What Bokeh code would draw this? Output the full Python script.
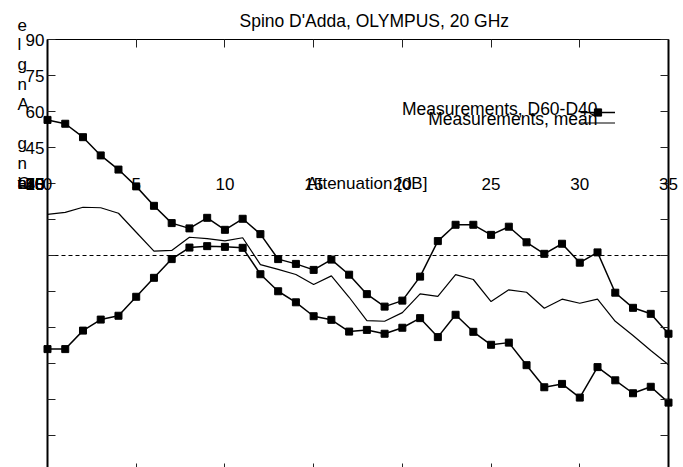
from bokeh.plotting import figure
from bokeh.models import (ColumnDataSource, LinearAxis, FixedTicker, Label,
                          Legend, LegendItem, Range1d)
from bokeh.embed import file_html
from bokeh.resources import INLINE

# ---------------- data ----------------
attenuation = list(range(36))
d60 = [56.5, 54.9, 49.3, 41.7, 35.8, 28.8, 20.7, 13.5, 11.3, 15.7, 10.7, 15.3, 8.9, -1.5,
       -3.5, -6.0, -1.7, -8.0, -16.1, -21.3, -18.8, -8.8, 6.0, 12.8, 12.8, 8.6, 12.0, 5.5,
       0.7, 4.9, -3.0, 1.3, -15.5, -21.8, -24.3, -32.6]
d40 = [-39.0, -39.0, -31.3, -26.7, -25.1, -17.2, -9.3, -1.5, 3.3, 3.9, 3.6, 3.2, -7.8, -14.9,
       -19.5, -25.3, -26.8, -31.7, -31.0, -32.6, -30.1, -26.1, -34.0, -24.7, -31.8, -37.2,
       -36.3, -45.7, -54.9, -53.5, -59.2, -46.5, -52.0, -57.4, -54.7, -61.3]
mean = [17.1, 18.0, 20.1, 19.9, 17.6, 9.7, 1.8, 2.1, 7.6, 7.0, 6.1, 7.4, -3.8, -5.8, -7.9,
        -12.1, -8.5, -17.4, -27.1, -27.4, -23.8, -16.0, -17.0, -8.0, -10.0, -19.2, -14.3,
        -15.3, -22.0, -18.2, -19.9, -18.2, -27.4, -33.3, -39.6, -45.5]

x_ticks = [0, 5, 10, 15, 20, 25, 30, 35]
x_tick_labels = ["0", "5", "10", "15", "20", "25", "30", "35"]
y_ticks = [90, 75, 60, 45, 30, 15, 0, -15, -30, -45, -60, -75, -90]
y_tick_labels = ["90", "75", "60", "45", "30", "15", "0", "-15", "-30", "-45", "-60", "-75", "-90"]
title_text = "Spino D'Adda, OLYMPUS, 20 GHz"
x_title = "Attenuation [dB]"
y_title = "Canting Angle"
legend_labels = ["Measurements, D60-D40", "Measurements, mean"]

FONT = "Liberation Sans"
FS = "17px"
FS_BIG = "17.5px"
clamp_y = 30                      # every label below this level collapses onto it
X0, X1 = x_ticks[0], x_ticks[-1]
Y0, Y1 = y_ticks[-1], y_ticks[0]

# plot area: 621 x 432 px placed at (47, 39) in a 683 x 467 canvas
W, H = 683, 467
left_px, top_px, area_w = 47, 39, 621
px_x = area_w / (X1 - X0)         # pixels per dB
px_y = 2.4                        # pixels per degree
x_lo = X0 - left_px / px_x
x_hi = X1 + (W - left_px - area_w) / px_x
y_hi = Y1 + top_px / px_y
y_lo = Y1 - (H - top_px) / px_y

# ---------------- figure ----------------
p = figure(width=W, height=H, output_backend="svg", toolbar_location=None,
           x_range=Range1d(x_lo, x_hi), y_range=Range1d(y_lo, y_hi),
           x_axis_location=None, y_axis_location=None,
           min_border_left=0, min_border_right=0, min_border_top=0, min_border_bottom=0)
p.xgrid.visible = False
p.ygrid.visible = False
p.outline_line_color = None
p.background_fill_color = "white"
p.border_fill_color = "white"


def make_axis(ticks, loc, bounds, width, labels=None):
    ax = LinearAxis(ticker=FixedTicker(ticks=ticks), fixed_location=loc, bounds=bounds,
                    major_tick_in=8, major_tick_out=0, minor_tick_line_color=None,
                    axis_line_width=width, axis_line_color="black",
                    major_tick_line_color="#222222", major_tick_line_width=1)
    if labels is None:
        ax.major_label_text_color = None
        ax.major_label_text_font_size = "1px"
        ax.major_label_standoff = 0
    else:
        ax.major_label_overrides = labels
        ax.major_label_text_font = FONT
        ax.major_label_text_font_size = FS
        ax.major_label_text_color = "black"
        ax.major_label_standoff = 3
    return ax


left_labels = {t: (l if t >= clamp_y else "") for t, l in zip(y_ticks, y_tick_labels)}
p.add_layout(make_axis(y_ticks, X0, (Y0, Y1), 2, left_labels), "left")
p.add_layout(make_axis(y_ticks, X1, (Y0, Y1), 2), "right")
p.add_layout(make_axis(x_ticks, Y1, (X0, X1), 1), "above")
p.add_layout(make_axis(x_ticks, Y0, (X0, X1), 1), "below")

# zero reference line across the plot area
p.line([X0, X1], [0, 0], line_color="black", line_width=1, line_dash="4 3")

# ---------------- series ----------------
src = ColumnDataSource(dict(x=attenuation, d60=d60, d40=d40, mean=mean))
r60l = p.line("x", "d60", source=src, line_color="black", line_width=1.5)
r60m = p.scatter("x", "d60", source=src, marker="square", size=7, color="black")
r40l = p.line("x", "d40", source=src, line_color="black", line_width=1.5)
r40m = p.scatter("x", "d40", source=src, marker="square", size=7, color="black")
rmean = p.line("x", "mean", source=src, line_color="black", line_width=1.2)

# ---------------- legend (samples right of the text) ----------------
common = dict(glyph_width=35, label_height=11, label_width=0, label_standoff=0, padding=0,
              spacing=0, margin=0, border_line_color=None, background_fill_alpha=0,
              label_text_font_size="1px")
leg1 = Legend(items=[LegendItem(label=" ", renderers=[r60l, r60m])],
              location=(580, 346), glyph_height=18, **common)
leg2 = Legend(items=[LegendItem(label=" ", renderers=[rmean])],
              location=(580, 339), glyph_height=11, **common)
p.add_layout(leg1)
p.add_layout(leg2)


def add_text(x, y, t, align, size=FS):
    p.add_layout(Label(x=x, y=y, text=t, x_units="data", y_units="data",
                       text_align=align, text_baseline="middle", text_font=FONT,
                       text_font_size=size, text_color="black"))


# title
add_text(X0 + 192 / px_x, Y1 + 19 / px_y, title_text, "left", FS_BIG)

# legend texts
for yy, t in zip([61.0, 56.8], legend_labels):
    add_text(31.0, yy, t, "right", FS_BIG)

# ---------------- collapsed tick labels and titles ----------------
for xx, t in zip(x_ticks, x_tick_labels):
    add_text(xx, clamp_y, t, "center")

for yy, t in zip(y_ticks, y_tick_labels):
    if yy < clamp_y:
        add_text(X0 - 3 / px_x, clamp_y, t, "right")

add_text(18.0, clamp_y, x_title, "center")

for j, ch in enumerate(reversed(y_title)):
    if ch.strip():
        add_text(X0 - 30 / px_x, max(clamp_y, 96.0 - 8.25 * j), ch, "left")

open("out.html", "w").write(file_html(p, INLINE))
